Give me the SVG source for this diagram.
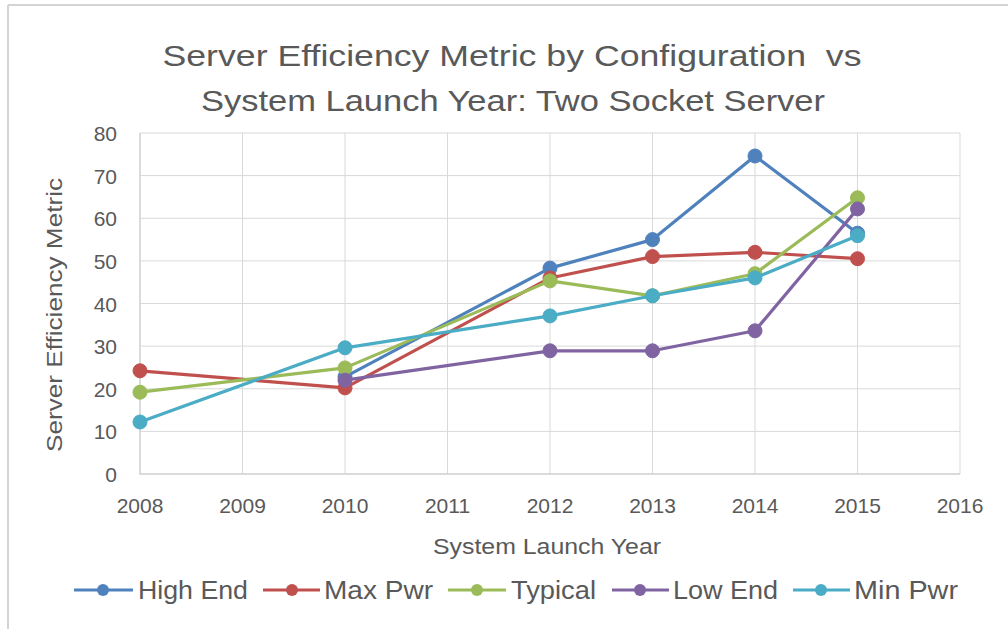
<svg xmlns="http://www.w3.org/2000/svg" width="1008" height="629" viewBox="0 0 1008 629">
<style>
text{font-family:"Liberation Sans",Arial,sans-serif;fill:#595959}
.grid{stroke:#d9d9d9;stroke-width:1;fill:none}
.ax{stroke:#d0d0d0;stroke-width:1.5;fill:none}
.tk{font-size:21px}
.ytk{font-size:21px;text-anchor:end}
.xtk{font-size:21px;text-anchor:middle}
.ln{fill:none;stroke-width:3.2;stroke-linejoin:round}
.lg{font-size:26px}
</style>
<rect x="0" y="0" width="1008" height="629" fill="#ffffff"/>
<g id="frame">
<line x1="8" y1="5" x2="1008" y2="5" stroke="#d4d4d4" stroke-width="2"/>
<line x1="8" y1="5" x2="8" y2="629" stroke="#d4d4d4" stroke-width="2"/>
</g>
<g id="title">
<text x="512" y="66" font-size="30" text-anchor="middle" textLength="699" lengthAdjust="spacingAndGlyphs" xml:space="preserve">Server Efficiency Metric by Configuration  vs</text>
<text x="513" y="111" font-size="30" text-anchor="middle" textLength="624" lengthAdjust="spacingAndGlyphs">System Launch Year: Two Socket Server</text>
</g>
<g id="grid">
<path class="grid" d="M140 133H960M140 175.6H960M140 218.3H960M140 260.9H960M140 303.5H960M140 346.1H960M140 388.8H960M140 431.4H960"/>
<path class="grid" d="M242.5 133V474M345 133V474M447.5 133V474M550 133V474M652.5 133V474M755 133V474M857.5 133V474M960 133V474"/>
<path class="ax" d="M140 133V474H960"/>
</g>
<g id="y-axis">
<text class="ytk" x="117" y="141">80</text>
<text class="ytk" x="117" y="183.6">70</text>
<text class="ytk" x="117" y="226.3">60</text>
<text class="ytk" x="117" y="268.9">50</text>
<text class="ytk" x="117" y="311.5">40</text>
<text class="ytk" x="117" y="354.1">30</text>
<text class="ytk" x="117" y="396.8">20</text>
<text class="ytk" x="117" y="439.4">10</text>
<text class="ytk" x="117" y="482">0</text>
<text x="0" y="0" font-size="22" text-anchor="middle" textLength="274" lengthAdjust="spacingAndGlyphs" transform="translate(62 315) rotate(-90)">Server Efficiency Metric</text>
</g>
<g id="x-axis">
<text class="xtk" x="140" y="513">2008</text>
<text class="xtk" x="242.5" y="513">2009</text>
<text class="xtk" x="345" y="513">2010</text>
<text class="xtk" x="447.5" y="513">2011</text>
<text class="xtk" x="550" y="513">2012</text>
<text class="xtk" x="652.5" y="513">2013</text>
<text class="xtk" x="755" y="513">2014</text>
<text class="xtk" x="857.5" y="513">2015</text>
<text class="xtk" x="960" y="513">2016</text>
<text x="547" y="554" font-size="22" text-anchor="middle" textLength="228" lengthAdjust="spacingAndGlyphs">System Launch Year</text>
</g>
<g id="connectors">
<g id="high-end" stroke="#4F81BD" fill="#4F81BD">
<polyline class="ln" points="345,376.8 550,268.1 652.5,239.6 755,156 857.5,233.2"/>
<circle cx="345" cy="376.8" r="7"/><circle cx="550" cy="268.1" r="7"/><circle cx="652.5" cy="239.6" r="7"/><circle cx="755" cy="156" r="7"/><circle cx="857.5" cy="233.2" r="7"/>
</g>
<g id="max-pwr" stroke="#C0504D" fill="#C0504D">
<polyline class="ln" points="140,370.8 345,387.9 550,278 652.5,256.6 755,252.3 857.5,258.7"/>
<circle cx="140" cy="370.8" r="7"/><circle cx="345" cy="387.9" r="7"/><circle cx="550" cy="278" r="7"/><circle cx="652.5" cy="256.6" r="7"/><circle cx="755" cy="252.3" r="7"/><circle cx="857.5" cy="258.7" r="7"/>
</g>
<g id="typical" stroke="#9BBB59" fill="#9BBB59">
<polyline class="ln" points="140,392.2 345,367.9 550,280.9 652.5,295.8 755,273.7 857.5,197.8"/>
<circle cx="140" cy="392.2" r="7"/><circle cx="345" cy="367.9" r="7"/><circle cx="550" cy="280.9" r="7"/><circle cx="652.5" cy="295.8" r="7"/><circle cx="755" cy="273.7" r="7"/><circle cx="857.5" cy="197.8" r="7"/>
</g>
<g id="low-end" stroke="#8064A2" fill="#8064A2">
<polyline class="ln" points="345,380.2 550,350.8 652.5,350.8 755,330.8 857.5,208.9"/>
<circle cx="345" cy="380.2" r="7"/><circle cx="550" cy="350.8" r="7"/><circle cx="652.5" cy="350.8" r="7"/><circle cx="755" cy="330.8" r="7"/><circle cx="857.5" cy="208.9" r="7"/>
</g>
<g id="min-pwr" stroke="#4BACC6" fill="#4BACC6">
<polyline class="ln" points="140,422 345,347.8 550,315.9 652.5,295.8 755,277.9 857.5,235.7"/>
<circle cx="140" cy="422" r="7"/><circle cx="345" cy="347.8" r="7"/><circle cx="550" cy="315.9" r="7"/><circle cx="652.5" cy="295.8" r="7"/><circle cx="755" cy="277.9" r="7"/><circle cx="857.5" cy="235.7" r="7"/>
</g>
</g>
<g id="legend">
<g id="lg-high-end"><line x1="74" y1="590" x2="133" y2="590" stroke="#4F81BD" stroke-width="3.2"/><circle cx="103" cy="590" r="6" fill="#4F81BD"/><text class="lg" x="138" y="599" textLength="110" lengthAdjust="spacingAndGlyphs">High End</text></g>
<g id="lg-max-pwr"><line x1="263" y1="590" x2="320" y2="590" stroke="#C0504D" stroke-width="3.2"/><circle cx="292" cy="590" r="6" fill="#C0504D"/><text class="lg" x="324" y="599" textLength="109" lengthAdjust="spacingAndGlyphs">Max Pwr</text></g>
<g id="lg-typical"><line x1="448" y1="590" x2="506" y2="590" stroke="#9BBB59" stroke-width="3.2"/><circle cx="477" cy="590" r="6" fill="#9BBB59"/><text class="lg" x="511" y="599" textLength="85" lengthAdjust="spacingAndGlyphs">Typical</text></g>
<g id="lg-low-end"><line x1="612" y1="590" x2="669" y2="590" stroke="#8064A2" stroke-width="3.2"/><circle cx="640" cy="590" r="6" fill="#8064A2"/><text class="lg" x="673" y="599" textLength="105" lengthAdjust="spacingAndGlyphs">Low End</text></g>
<g id="lg-min-pwr"><line x1="793" y1="590" x2="850" y2="590" stroke="#4BACC6" stroke-width="3.2"/><circle cx="821" cy="590" r="6" fill="#4BACC6"/><text class="lg" x="854" y="599" textLength="104" lengthAdjust="spacingAndGlyphs">Min Pwr</text></g>
</g>
</svg>
